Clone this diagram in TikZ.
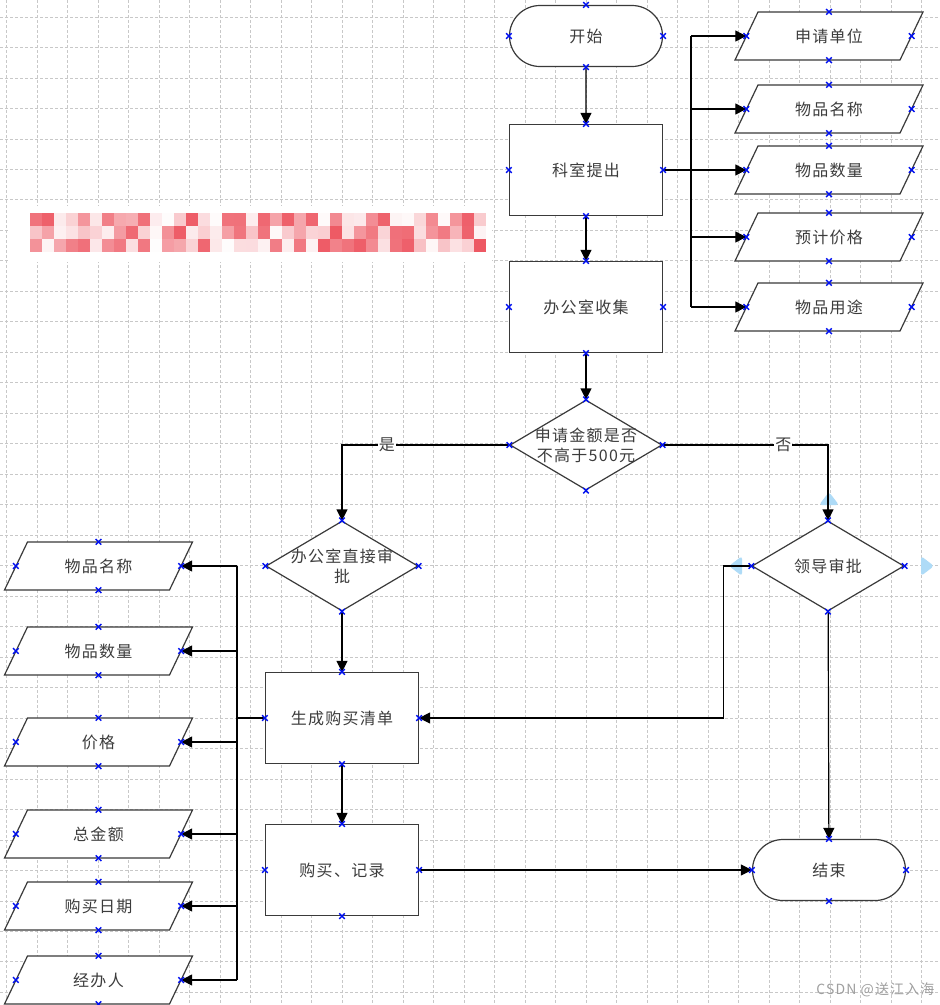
\documentclass[tikz,border=0pt]{standalone}
\usepackage{fontspec}
\setmainfont{Noto Sans CJK SC}[LetterSpace=8]
\usetikzlibrary{arrows.meta,shapes.geometric,shapes.misc}
\definecolor{ink}{HTML}{3C3C3C}
\definecolor{edge}{HTML}{3A3A3A}
\definecolor{gridc}{HTML}{C8C8C8}
\definecolor{cpblue}{HTML}{0010F0}
\definecolor{glow}{HTML}{AEDBF7}
\definecolor{blur}{HTML}{EC4652}
\newcommand{\pinx}[1]{\draw[cpblue,line width=1.4pt] (#1)+(-2.8,-2.8)--+(2.8,2.8) (#1)+(-2.8,2.8)--+(2.8,-2.8);}
\newcommand{\pins}[1]{\pinx{#1.north}\pinx{#1.south}\pinx{#1.east}\pinx{#1.west}}
\newcommand{\para}[4]{\filldraw[fill=white,draw=edge,line width=1.2pt] (#2-71,#3-24)--(#2+94,#3-24)--(#2+71,#3+24)--(#2-94,#3+24)--cycle;
  \node[io] (#1) at (#2,#3) {#4};}
\tikzset{
  cn/.style={text=ink,font=\fontsize{16}{20}\selectfont},
  base/.style={cn,draw=edge,fill=white,line width=1.2pt,inner sep=0pt},
  term/.style={base,rounded rectangle,minimum width=153pt,minimum height=61pt},
  proc/.style={base,rectangle,minimum width=153pt,minimum height=91pt},
  dec/.style={base,diamond,minimum width=152pt,minimum height=90pt},
  io/.style={cn,minimum width=165pt,minimum height=48pt,inner sep=0pt},
  txt/.style={cn,align=center,inner sep=0pt},
  flow/.style={line width=1.2pt,->},
  wire/.style={line width=1.2pt},
  yn/.style={cn,fill=white,inner sep=1pt},
  gridln/.style={gridc,line width=0.8pt,dash pattern=on 3pt off 2pt}
}

\begin{document}
\begin{tikzpicture}[x=1pt,y=-1pt,>={Triangle[length=11pt,width=11pt]}]
\useasboundingbox (0,0) rectangle (940,1005);
\fill[white] (0,0) rectangle (940,1005);
\foreach \i in {0,...,30} \draw[gridln] (6.8+30.5*\i,0)--(6.8+30.5*\i,1005);
\foreach \j in {0,...,32} \draw[gridln] (0,17+30.48*\j)--(940,17+30.48*\j);

\fill[white] (8,206) rectangle (492,262);
\pgfmathsetseed{17}
\foreach \i in {0,...,37}{\foreach \j in {0,1,2}{
  \pgfmathsetmacro\op{0.9*rnd}
  \fill[blur,opacity=\op] (30+12*\i,213+13*\j) rectangle ++(12,13);}}

\node[term] (start) at (586,36) {开始};
\node[proc] (ksub) at (586,170) {科室提出};
\node[proc] (bgs) at (586,307) {办公室收集};
\node[dec] (ask) at (586,445) {};
\node[txt] (askt) at (ask) {申请金额是否\\不高于500元};
\node[dec] (bgsp) at (342,566) {};
\node[txt] (bgspt) at (bgsp) {办公室直接审\\批};
\node[dec] (ldsp) at (828,566) {领导审批};
\node[proc] (list) at (342,718) {生成购买清单};
\node[proc] (buy) at (342,870) {购买、记录};
\node[term] (end) at (829,870) {结束};

\para{r1}{829}{36}{申请单位}\para{r2}{829}{109}{物品名称}\para{r3}{829}{170}{物品数量}
\para{r4}{829}{237}{预计价格}\para{r5}{829}{307}{物品用途}
\para{l1}{98.5}{566}{物品名称}\para{l2}{98.5}{651}{物品数量}\para{l3}{98.5}{742}{价格}
\para{l4}{98.5}{834}{总金额}\para{l5}{98.5}{906}{购买日期}\para{l6}{98.5}{980}{经办人}

\fill[glow,rounded corners=3pt] (819,505)--(829,492)--(839,505)--cycle;
\fill[glow,rounded corners=3pt] (742,556)--(729,566)--(742,576)--cycle;
\fill[glow,rounded corners=3pt] (921,556)--(934,566)--(921,576)--cycle;

\draw[flow] (start)--(ksub);
\draw[flow] (ksub)--(bgs);
\draw[flow] (bgs)--(ask);
\coordinate (rb) at (691,170);
\draw[wire] (ksub.east)--(rb) (rb|-r1.west)--(rb|-r5.west);
\foreach \n in {r1,r2,r3,r4,r5} \draw[flow] (rb|-\n.west)--(\n.west);
\draw[flow] (ask.west) -| node[yn,pos=0.366]{是} (bgsp.north);
\draw[flow] (ask.east) -| node[yn,pos=0.365]{否} (ldsp.north);
\draw[flow] (bgsp)--(list);
\draw[flow] (ldsp.west)--([xshift=-28pt]ldsp.west) |- (list.east);
\draw[flow] (ldsp)--(end);
\draw[flow] (list)--(buy);
\draw[flow] (buy)--(end);
\coordinate (lb) at (237,718);
\draw[wire] (list.west)--(lb) (lb|-l1.east)--(lb|-l6.east);
\foreach \n in {l1,l2,l3,l4,l5,l6} \draw[flow] (lb|-\n.east)--(\n.east);

\foreach \n in {start,ksub,bgs,ask,bgsp,ldsp,list,buy,end,r1,r2,r3,r4,r5,l1,l2,l3,l4,l5,l6} {\pins{\n}}

\node[anchor=east,text=gray!75,font=\fontsize{14}{14}\selectfont] (wm) at (938,990) {CSDN @送江入海};
\end{tikzpicture}
\end{document}
